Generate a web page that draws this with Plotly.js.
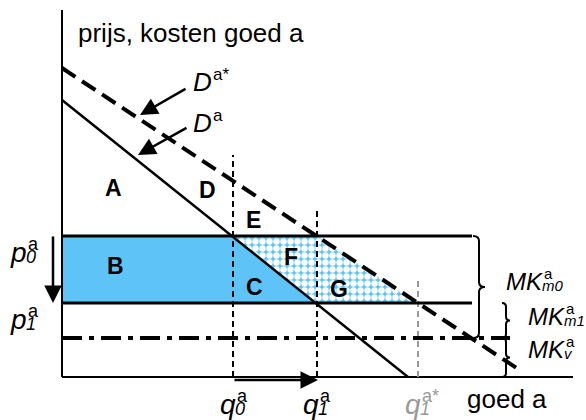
<!DOCTYPE html>
<html><head><meta charset="utf-8">
<script src="https://cdn.plot.ly/plotly-3.0.1.min.js"></script>
<style>html,body{margin:0;padding:0;background:#fff}#c{width:586px;height:420px}</style>
</head><body><div id="c"></div>
<script>
// quantities (q0, q1, q1*) and prices (p0, p1), cost levels
const qVals = [171, 255, 356];
const qTops = [222, 167, 97];
const pVals = [141, 74];
const mkV = 39;
const demandX = [0, 346];
const demandY = [277, 0];
const demandStarX = [0, 456];
const demandStarY = [309, 8];
const priceLineEnd = 410;
const mkvLineEnd = 448;
const axisTop = 367;
const axisRight = 511;
const areaLabels = ['A','D','E','B','F','C','G'];
const areaX = [51, 145, 191, 53, 229, 192, 277];
const areaY = [189, 187, 157, 111, 120, 90, 88];

const BLUE = '#5ec4f7';
const F = 'Liberation Sans, Arial, sans-serif';
const traces = [];
// B rectangle
traces.push({x:[0,qVals[0],qVals[0],0,0], y:[pVals[0],pVals[0],pVals[1],pVals[1],pVals[0]], fill:'toself', fillcolor:BLUE, mode:'lines', line:{width:0}, hoverinfo:'skip'});
// C triangle
traces.push({x:[qVals[0],qVals[0],qVals[1],qVals[0]], y:[pVals[0],pVals[1],pVals[1],pVals[0]], fill:'toself', fillcolor:BLUE, mode:'lines', line:{width:0}, hoverinfo:'skip'});
// F+G hatched
traces.push({x:[qVals[0],qVals[1],qVals[2],qVals[1],qVals[0]], y:[pVals[0],pVals[0],pVals[1],pVals[1],pVals[0]], fill:'toself', fillcolor:BLUE, fillpattern:{shape:'.', bgcolor:BLUE, fgcolor:'#ffffff', size:7, solidity:0.65}, mode:'lines', line:{width:0}, hoverinfo:'skip'});
// axes
traces.push({x:[0,0], y:[0,axisTop], mode:'lines', line:{color:'#000', width:2}});
traces.push({x:[0,axisRight], y:[0,0], mode:'lines', line:{color:'#000', width:2}});
// vertical dashed
for (let i=0;i<3;i++){
  traces.push({x:[qVals[i],qVals[i]], y:[0,qTops[i]], mode:'lines', line:{color: i===2?'#999':'#000', width:2, dash:'6px,4px'}});
}
// price lines
traces.push({x:[0,priceLineEnd], y:[pVals[0],pVals[0]], mode:'lines', line:{color:'#000', width:3}});
traces.push({x:[0,priceLineEnd], y:[pVals[1],pVals[1]], mode:'lines', line:{color:'#000', width:3}});
// MKv dash-dot
traces.push({x:[0,mkvLineEnd], y:[mkV,mkV], mode:'lines', line:{color:'#000', width:4, dash:'20px,7px,5px,7px'}});
// demand curves
traces.push({x:demandX, y:demandY, mode:'lines', line:{color:'#000', width:2.5}});
traces.push({x:demandStarX, y:demandStarY, mode:'lines', line:{color:'#000', width:4, dash:'16px,8px'}});

const ann = [];
function txt(x,y,t,size,opts){ ann.push(Object.assign({x:x,y:y,xref:'x',yref:'y',text:t,showarrow:false,borderpad:0,font:{family:F,size:size,color:'#000'}},opts||{})); }
function lab(x,y,base,sup,sub,size,color){
  color = color||'#000';
  const s2 = Math.round(size*0.64);
  txt(x,y,'<i>'+base+'</i>',size,{xanchor:'right',yanchor:'middle',font:{family:F,size:size,color:color}});
  txt(x,y,sup,s2,{xanchor:'left',yanchor:'middle',xshift:-size*0.04,yshift:size*0.3,font:{family:F,size:s2,color:color}});
  if(sub) txt(x,y,'<i>'+sub+'</i>',s2,{xanchor:'left',yanchor:'middle',xshift:-size*0.12,yshift:-size*0.17,font:{family:F,size:s2,color:color}});
}
for (let i=0;i<areaLabels.length;i++) txt(areaX[i],areaY[i],'<b>'+areaLabels[i]+'</b>',23,{xanchor:'center',yanchor:'middle'});
txt(15,344,'prijs, kosten goed a',26,{xanchor:'left',yanchor:'middle'});
txt(404,-22,'goed a',26,{xanchor:'left',yanchor:'middle'});
lab(-34,125,'p','a','0',28);
lab(-34,58,'p','a','1',28);
lab(175,-27,'q','a','0',28);
lab(258,-27,'q','a','1',28);
lab(360,-27,'q','a*','1',28,'#999');
lab(151,295,'D','a*','',26);
lab(151,254,'D','a','',26);
lab(482,96,'MK','a','m0',24);
lab(504,61,'MK','a','m1',24);
lab(504,28,'MK','a','v',24);
// arrows
function arr(x,y,ax,ay){ ann.push({x:x,y:y,ax:ax,ay:ay,xref:'x',yref:'y',axref:'x',ayref:'y',text:'',showarrow:true,arrowhead:2,arrowsize:1.4,arrowwidth:2.5,arrowcolor:'#000'}); }
arr(78,262,125,289);
arr(76,222,126,250);
arr(-9,74,-9,142);
arr(256,-3,171,-3);

// braces
function brace(x0,w,t,b,r){
  const m=(t+b)/2, xm=x0+w/2, xe=x0+w;
  return 'M '+x0+','+t+' Q '+xm+','+t+' '+xm+','+(t-r)+' L '+xm+','+(m+r)+' Q '+xm+','+m+' '+xe+','+m+
    ' Q '+xm+','+m+' '+xm+','+(m-r)+' L '+xm+','+(b+r)+' Q '+xm+','+b+' '+x0+','+b;
}
const shapes = [
  {type:'path', xref:'x', yref:'y', path:brace(411,12,pVals[0],mkV,5), line:{color:'#000',width:2}},
  {type:'path', xref:'x', yref:'y', path:brace(440,8,pVals[1],mkV,4), line:{color:'#000',width:2}},
  {type:'path', xref:'x', yref:'y', path:brace(440,8,mkV,0,4), line:{color:'#000',width:2}}
];

Plotly.newPlot('c', traces, {
  width:586, height:420, margin:{l:0,r:0,t:0,b:0}, showlegend:false,
  paper_bgcolor:'#fff', plot_bgcolor:'#fff',
  xaxis:{range:[-62,524], visible:false, fixedrange:true},
  yaxis:{range:[-43,377], visible:false, fixedrange:true},
  annotations:ann, shapes:shapes
}, {staticPlot:true});
</script></body></html>
